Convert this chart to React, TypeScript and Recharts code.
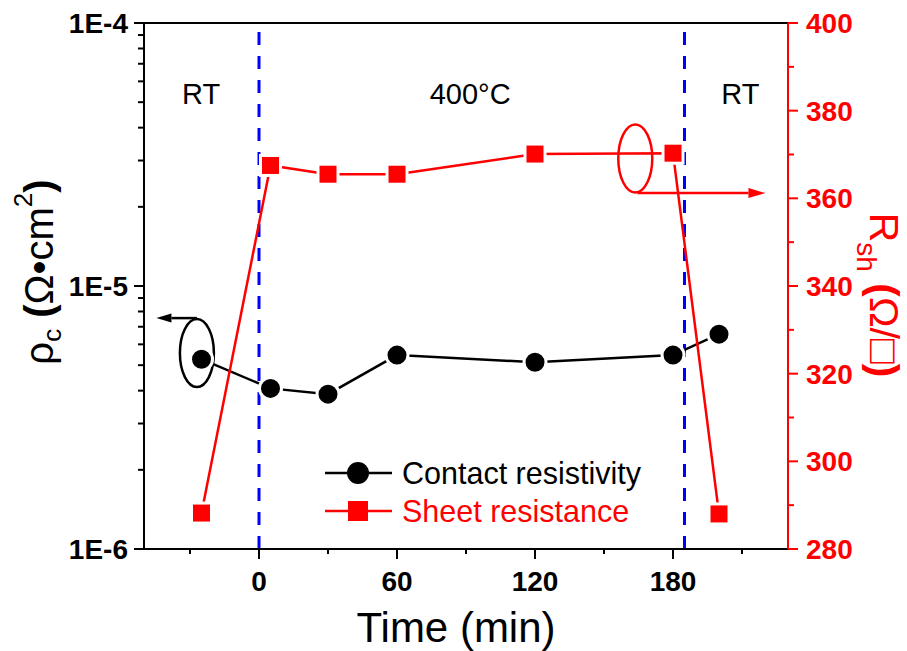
import React from 'react';
import {
  LineChart,
  Line,
  XAxis,
  YAxis,
  ReferenceLine,
  ReferenceDot,
  Legend,
  Label,
} from 'recharts';

// annealing time (min); -25 and 200 are the room-temperature points
const times = [-25, 5, 30, 60, 120, 180, 200];
const contactResistivity = [5.27e-6, 4.08e-6, 3.88e-6, 5.46e-6, 5.13e-6, 5.46e-6, 6.56e-6];
const sheetResistance = [288.2, 367.5, 365.5, 365.5, 370.1, 370.3, 288.0];

const xTicks = [-30, 0, 30, 60, 90, 120, 150, 180, 210];
const xLabels = [0, 60, 120, 180];
const leftTicks = [
  1e-6, 2e-6, 3e-6, 4e-6, 5e-6, 6e-6, 7e-6, 8e-6, 9e-6,
  1e-5, 2e-5, 3e-5, 4e-5, 5e-5, 6e-5, 7e-5, 8e-5, 9e-5,
  1e-4,
];
const rightTicks = [280, 290, 300, 310, 320, 330, 340, 350, 360, 370, 380, 390, 400];
const rightLabels = [280, 300, 320, 340, 360, 380, 400];

// heating starts / stops
const phaseMarks = [0, 185];
const phaseTexts = ['RT', '400°C', 'RT'];
const phaseTextX = [-25.2, 91.8, 209.3];
const phaseTextY = 381.5;

const data = times.map((t, i) => ({
  time: t,
  rho: contactResistivity[i],
  rsh: sheetResistance[i],
}));

const FONT = 'Arial, "Liberation Sans", sans-serif';
const RED = '#ff0000';

const XTick = ({ x, y, payload }: any) => {
  const major = xLabels.includes(payload.value);
  return (
    <g>
      <line x1={x} y1={y} x2={x} y2={y + (major ? 10 : 5)} stroke="#000" strokeWidth={2} />
      {major && (
        <text x={x} y={y + 42} textAnchor="middle" fontFamily={FONT} fontWeight="bold" fontSize={28} fill="#000">
          {payload.value}
        </text>
      )}
    </g>
  );
};

const TopTick = ({ x, y, payload }: any) => {
  const major = xLabels.includes(payload.value);
  return <line x1={x} y1={y} x2={x} y2={y + (major ? 10 : 5)} stroke="#000" strokeWidth={2} />;
};

const LeftTick = ({ x, y, payload }: any) => {
  const lg = Math.log10(payload.value);
  const major = Math.abs(lg - Math.round(lg)) < 1e-6;
  return (
    <g>
      <line x1={x - (major ? 10 : 6)} y1={y} x2={x} y2={y} stroke="#000" strokeWidth={2} />
      {major && (
        <text x={x - 16} y={y + 10} textAnchor="end" fontFamily={FONT} fontWeight="bold" fontSize={28} fill="#000">
          {`1E${Math.round(lg)}`}
        </text>
      )}
    </g>
  );
};

const RightTick = ({ x, y, payload }: any) => {
  const major = rightLabels.includes(payload.value);
  return (
    <g>
      <line x1={x} y1={y} x2={x + (major ? 10 : 6)} y2={y} stroke={RED} strokeWidth={2} />
      {major && (
        <text x={x + 18} y={y + 10} textAnchor="start" fontFamily={FONT} fontWeight="bold" fontSize={28} fill={RED}>
          {payload.value}
        </text>
      )}
    </g>
  );
};

const BlackDot = (p: any) => (
  <circle key={`c${p.index}`} cx={p.cx} cy={p.cy} r={11} fill="#000" stroke="#fff" strokeWidth={3} />
);

const RedSquare = (p: any) => (
  <rect key={`s${p.index}`} x={p.cx - 10} y={p.cy - 10} width={20} height={20} fill={RED} stroke="#fff" strokeWidth={3} />
);

const arrow = (color: string, len: number, hw: number) => (p: any) => {
  const { x1, y1, x2, y2 } = p;
  const a = Math.atan2(y2 - y1, x2 - x1);
  const bx = x2 - len * Math.cos(a);
  const by = y2 - len * Math.sin(a);
  const nx = -Math.sin(a) * hw;
  const ny = Math.cos(a) * hw;
  return (
    <g>
      <line x1={x1} y1={y1} x2={bx} y2={by} stroke={color} strokeWidth={2.5} />
      <polygon points={`${x2},${y2} ${bx + nx},${by + ny} ${bx - nx},${by - ny}`} fill={color} />
    </g>
  );
};

const ellipse = (color: string) => (p: any) => (
  <ellipse cx={p.cx} cy={p.cy} rx={17} ry={34} fill="none" stroke={color} strokeWidth={2.5} />
);

const phaseText = (txt: string) => (p: any) => (
  <text x={p.cx} y={p.cy} textAnchor="middle" fontFamily={FONT} fontSize={29} fill="#000">
    {txt}
  </text>
);

const LegendBox = ({ payload }: any) => {
  const items = payload && payload.length ? payload : [];
  return (
    <svg width={340} height={90}>
      {items.map((it: any, i: number) => {
        const cy = 25 + i * 38;
        const color = it.color || (i === 0 ? '#000' : RED);
        return (
          <g key={i}>
            <line x1={5} y1={cy} x2={72} y2={cy} stroke={color} strokeWidth={2.5} />
            {i === 0 ? (
              <circle cx={38} cy={cy} r={11} fill={color} />
            ) : (
              <rect x={28} y={cy - 10} width={20} height={20} fill={color} />
            )}
            <text x={82} y={cy + 11} fontFamily={FONT} fontSize={30.5} fill={color}>
              {it.value}
            </text>
          </g>
        );
      })}
    </svg>
  );
};

export default function App() {
  return (
    <div style={{ position: 'absolute', left: 0, top: 0, background: '#fff' }}>
      <LineChart width={907} height={651} data={data} margin={{ top: 22, right: 10, bottom: 10, left: 13 }}>
        <XAxis
          xAxisId="b"
          type="number"
          dataKey="time"
          domain={[-50, 230]}
          ticks={xTicks}
          interval={0}
          tickSize={0}
          tickMargin={0}
          tickLine={false}
          tick={XTick}
          height={92}
          axisLine={{ stroke: '#000', strokeWidth: 2 }}
          allowDataOverflow
        >
          <Label
            content={() => (
              <text x={456} y={642} textAnchor="middle" fontFamily={FONT} fontSize={42} fill="#000">
                Time (min)
              </text>
            )}
          />
        </XAxis>
        <XAxis
          xAxisId="t"
          orientation="top"
          type="number"
          domain={[-50, 230]}
          ticks={xTicks}
          interval={0}
          tickSize={0}
          tickMargin={0}
          tickLine={false}
          tick={TopTick}
          height={1}
          axisLine={{ stroke: '#000', strokeWidth: 2 }}
          allowDataOverflow
        />
        <YAxis
          yAxisId="left"
          scale="log"
          domain={[1e-6, 1e-4]}
          ticks={leftTicks}
          interval={0}
          tickSize={0}
          tickMargin={0}
          tickLine={false}
          tick={LeftTick}
          width={131}
          axisLine={{ stroke: '#000', strokeWidth: 2 }}
          allowDataOverflow
        >
          <Label
            content={() => (
              <text x={53} y={272} transform="rotate(-90, 53, 272)" textAnchor="middle" fontFamily={FONT} fontSize={40} fill="#000">
                <tspan>ρ</tspan>
                <tspan fontSize={26} dy={8}>c</tspan>
                <tspan dy={-8}> </tspan>
                <tspan fontWeight="bold">(</tspan>
                <tspan>Ω•cm</tspan>
                <tspan fontSize={26} dy={-21}>2</tspan>
                <tspan dy={21} fontWeight="bold">)</tspan>
              </text>
            )}
          />
        </YAxis>
        <YAxis
          yAxisId="right"
          orientation="right"
          domain={[280, 400]}
          ticks={rightTicks}
          interval={0}
          tickSize={0}
          tickMargin={0}
          tickLine={false}
          tick={RightTick}
          width={109}
          axisLine={{ stroke: RED, strokeWidth: 2 }}
          allowDataOverflow
        >
          <Label
            content={() => (
              <text x={870} y={295} transform="rotate(90, 870, 295)" textAnchor="middle" fontFamily={FONT} fontSize={41} fill={RED}>
                <tspan>R</tspan>
                <tspan fontSize={28} dy={13}>sh</tspan>
                <tspan dy={-13}> </tspan>
                <tspan fontWeight="bold">(</tspan>
                <tspan>Ω/□</tspan>
                <tspan fontWeight="bold">)</tspan>
              </text>
            )}
          />
        </YAxis>

        {phaseMarks.map((t) => (
          <ReferenceLine
            key={t}
            xAxisId="b"
            yAxisId="left"
            x={t}
            stroke="#0000ff"
            strokeWidth={3}
            strokeDasharray="13 11"
          />
        ))}

        {phaseTexts.map((txt, i) => (
          <ReferenceDot
            key={`pt${i}`}
            xAxisId="b"
            yAxisId="right"
            x={phaseTextX[i]}
            y={phaseTextY}
            shape={phaseText(txt)}
          />
        ))}

        <ReferenceDot xAxisId="b" yAxisId="left" x={-27} y={5.56e-6} shape={ellipse('#000')} />
        <ReferenceLine
          xAxisId="b"
          yAxisId="left"
          segment={[{ x: -27, y: 7.55e-6 }, { x: -44.6, y: 7.55e-6 }]}
          shape={arrow('#000', 15, 4.5)}
        />
        <ReferenceDot xAxisId="b" yAxisId="right" x={163.6} y={369.1} shape={ellipse(RED)} />
        <ReferenceLine
          xAxisId="b"
          yAxisId="right"
          segment={[{ x: 164.5, y: 361.2 }, { x: 220.2, y: 361.2 }]}
          shape={arrow(RED, 17, 5)}
        />

        <Line
          xAxisId="b"
          yAxisId="left"
          dataKey="rho"
          name="Contact resistivity"
          stroke="#000"
          strokeWidth={2.5}
          dot={BlackDot}
          activeDot={false}
          isAnimationActive={false}
        />
        <Line
          xAxisId="b"
          yAxisId="right"
          dataKey="rsh"
          name="Sheet resistance"
          stroke={RED}
          strokeWidth={2.5}
          dot={RedSquare}
          activeDot={false}
          isAnimationActive={false}
        />
        <Legend
          layout="vertical"
          align="center"
          verticalAlign="middle"
          content={LegendBox}
          wrapperStyle={{ left: 320, top: 448, width: 340, height: 90 }}
        />
      </LineChart>
    </div>
  );
}
